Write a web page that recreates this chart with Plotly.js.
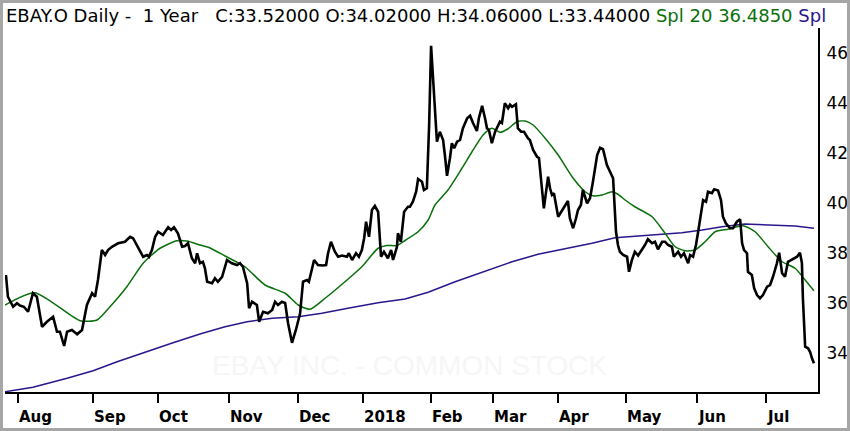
<!DOCTYPE html>
<html>
<head>
<meta charset="utf-8">
<script src="https://cdn.plot.ly/plotly-3.0.1.min.js"></script>
<style>
  body { margin: 0; background: #fff; }
  #wrap { position: relative; width: 850px; height: 431px; }
  #chart { width: 850px; height: 431px; }
  #frame {
    position: absolute; left: 0; top: 0; width: 850px; height: 431px;
    box-sizing: border-box; border: 3px solid #a6a6a6; pointer-events: none;
  }
</style>
</head>
<body>
<div id="wrap">
  <div id="chart"></div>
  <div id="frame"></div>
</div>
<script>
// ---------------------------------------------
// DATA (x = trading day index, 0 = left edge)
// ---------------------------------------------
const closeDay = [
  0.3, 0.9, 2.5, 3.7, 4.6, 5.8, 7.1, 8.6, 9.8, 11.4, 12.9, 14.8, 16.0, 16.9, 18.2, 19.1,
  20.6, 22.2, 23.7, 25.2, 26.8, 27.7, 28.6, 29.8, 30.8, 31.7, 32.9, 34.8, 36.9, 38.5, 39.4,
  40.6, 42.5, 43.7, 44.3, 45.2, 46.2, 47.1, 48.6, 50.2, 51.1, 52.0, 53.2, 54.5, 55.4, 56.3,
  57.5, 58.5, 59.1, 60.0, 60.9, 61.5, 62.2, 63.7, 64.6, 65.5, 66.8, 68.3, 69.8, 71.4, 72.3,
  73.2, 74.5, 75.1, 76.0, 77.5, 78.2, 79.4, 80.9, 82.2, 83.1, 84.0, 85.2, 86.2, 87.1, 88.3,
  89.5, 90.8, 91.7, 92.9, 93.5, 94.5, 95.1, 96.3, 97.8, 98.8, 99.4, 100.3, 101.5, 102.5,
  103.7, 105.2, 105.8, 106.8, 108.0, 108.9, 109.8, 110.5, 111.1, 112.0, 112.9, 113.8, 114.8,
  115.7, 116.6, 117.8, 118.8, 119.4, 120.6, 120.9, 121.8, 122.8, 124.0, 124.6, 125.5, 126.5,
  127.1, 128.3, 128.9, 129.8, 130.5, 131.1, 131.7, 132.9, 133.8, 134.8, 135.4, 136.0, 136.9,
  137.5, 138.2, 139.1, 140.0, 140.9, 142.2, 143.1, 144.0, 145.2, 145.8, 146.8, 147.7, 148.3,
  148.9, 149.8, 150.8, 151.7, 152.3, 152.9, 153.8, 154.8, 155.4, 156.0, 157.2, 157.8, 158.8,
  159.7, 160.9, 161.5, 162.5, 163.7, 164.3, 164.9, 165.8, 167.1, 167.7, 168.3, 168.9, 170.2,
  171.1, 172.0, 173.2, 173.8, 174.8, 175.7, 176.3, 177.2, 177.8, 179.1, 180.0, 180.9, 182.2,
  183.1, 184.0, 185.2, 186.2, 187.1, 188.0, 188.6, 189.2, 190.2, 191.4, 192.0, 192.9, 193.8,
  194.8, 196.0, 196.9, 197.8, 199.1, 200.0, 200.9, 202.2, 203.1, 204.0, 205.2, 205.8, 207.1,
  208.0, 208.9, 210.2, 210.8, 211.7, 212.6, 213.2, 214.2, 214.8, 215.7, 216.3, 217.5, 218.2,
  219.4, 220.3, 220.9, 221.8, 223.1, 224.0, 225.2, 226.2, 226.8, 227.4, 228.3, 228.6, 229.8,
  230.5, 231.4, 232.3, 233.2, 234.5, 235.4, 236.3, 237.5, 238.2, 239.1, 240.0, 240.9, 242.5,
  243.7, 244.6, 245.2, 245.5, 246.2, 247.1, 247.7, 248.3, 248.9
];
const closeVal = [
  37.12, 36.25, 35.85, 35.99, 35.90, 35.85, 35.65, 36.39, 36.25, 35.05, 35.25, 35.45, 34.85, 34.85, 34.28, 34.85,
  34.92, 34.75, 34.92, 35.92, 36.39, 36.25, 36.92, 38.12, 37.92, 38.12, 38.25, 38.39, 38.45, 38.65, 38.59,
  38.32, 37.85, 37.92, 37.85, 38.12, 38.65, 38.85, 38.72, 39.03, 38.92, 39.03, 38.79, 38.25, 38.28, 38.39,
  37.79, 37.59, 37.99, 37.59, 37.65, 37.40, 36.85, 36.79, 36.99, 36.85, 37.05, 37.72, 37.59, 37.52, 37.59,
  37.45, 36.79, 35.79, 36.05, 35.92, 35.25, 35.65, 35.59, 35.72, 36.05, 35.92, 36.05, 36.00, 35.19, 34.41,
  34.92, 35.59, 36.85, 36.92, 36.85, 37.39, 37.72, 37.52, 37.50, 37.52, 37.99, 38.45, 38.05, 37.85,
  37.90, 37.85, 37.99, 37.72, 37.99, 37.85, 38.12, 38.59, 39.25, 38.65, 39.72, 39.88, 39.65,
  37.85, 38.05, 37.79, 38.12, 37.72, 38.25, 38.79, 38.45, 39.65, 39.85, 39.85, 40.05, 40.45,
  40.96, 40.85, 40.52, 40.59, 43.12, 46.29, 44.99, 42.45, 42.85, 42.52, 41.85, 41.09, 41.79,
  42.39, 42.19, 42.45, 42.52, 42.99, 43.39, 43.49, 43.20, 42.88, 43.39, 43.89, 43.39, 42.99,
  42.92, 42.39, 42.85, 43.12, 43.25, 43.20, 43.99, 43.79, 43.93, 43.85, 43.95, 42.99, 42.85,
  42.85, 42.59, 42.52, 42.12, 41.85, 41.80, 40.99, 39.79, 41.05, 40.59, 40.32, 40.39, 39.45,
  39.65, 39.85, 40.08, 39.39, 38.99, 39.39, 39.72, 39.92, 40.52, 39.99, 40.19, 40.85, 41.92,
  42.21, 42.15, 41.52, 41.25, 40.99, 38.85, 38.32, 38.05, 37.92, 37.85, 37.25, 37.72, 38.05,
  37.90, 38.12, 38.32, 38.55, 38.39, 38.45, 38.15, 38.45, 38.45, 38.32, 38.25, 37.85, 38.05,
  37.85, 37.99, 37.59, 37.92, 37.85, 38.32, 38.79, 39.52, 40.12, 40.05, 40.45, 40.39, 40.55,
  40.50, 40.12, 39.45, 39.19, 38.99, 38.99, 39.25, 39.35, 38.39, 38.12, 37.99, 37.25, 37.12,
  36.59, 36.32, 36.19, 36.32, 36.65, 36.72, 37.05, 37.59, 38.01, 37.19, 37.05, 37.65, 37.75,
  37.85, 38.01, 37.60, 36.20, 34.25, 34.19, 34.05, 33.79, 33.59
];

const spl20Day = [
  0.0, 9.2, 23.1, 28.3, 32.3, 37.5, 42.5, 47.7, 52.9, 56.0, 60.0, 63.1, 67.7, 73.8, 80.0, 86.2,
  90.2, 93.8, 98.5, 104.6, 109.8, 114.8, 117.5, 120.6, 123.1, 127.1, 130.2, 132.3, 136.3, 140.6,
  143.7, 147.1, 149.8, 152.3, 154.8, 157.5, 160.0, 162.5, 166.2, 170.2, 174.5, 178.5, 180.9,
  183.7, 186.8, 188.6, 190.8, 193.8, 199.1, 203.1, 206.2, 209.2, 212.3, 215.4, 218.5, 222.5,
  227.1, 230.8, 234.8, 239.1, 243.1, 246.2, 248.9
];
const spl20Val = [
  35.92, 36.41, 35.29, 35.32, 35.85, 36.65, 37.59, 38.19, 38.49, 38.48, 38.32, 38.20, 37.88, 37.45, 36.72, 36.39,
  35.92, 35.75, 36.19, 36.85, 37.45, 38.19, 38.30, 38.30, 38.50, 38.85, 39.32, 39.92, 40.52, 41.39,
  42.05, 42.72, 42.99, 42.83, 42.97, 43.25, 43.28, 43.12, 42.59, 41.92, 41.05, 40.45, 40.29,
  40.32, 40.45, 40.35, 40.12, 39.85, 39.45, 38.79, 38.25, 38.09, 38.12, 38.45, 38.85, 38.95,
  39.09, 38.85, 38.25, 37.65, 37.39, 36.92, 36.49
];

const spl200Day = [
  0.0, 8.6, 19.1, 27.1, 34.5, 42.5, 51.7, 60.0, 67.7, 74.5, 82.2, 90.2, 97.5, 105.5, 114.8,
  123.1, 130.2, 138.5, 148.6, 156.0, 164.0, 172.3, 180.6, 187.7, 197.8, 208.3, 214.5, 220.6,
  227.7, 234.8, 243.1, 248.9
];
const spl200Val = [
  32.45, 32.63, 32.99, 33.29, 33.65, 34.01, 34.41, 34.76, 35.05, 35.25, 35.39, 35.45, 35.59, 35.79, 36.01,
  36.16, 36.43, 36.85, 37.32, 37.65, 37.95, 38.16, 38.39, 38.61, 38.72, 38.81, 38.92, 39.05,
  39.16, 39.12, 39.08, 38.99
];

const monthTicks = [4, 27, 47, 69, 90, 110, 131, 150, 170, 191, 213, 234];
const monthLabels = ["Aug", "Sep", "Oct", "Nov", "Dec", "2018", "Feb", "Mar", "Apr", "May", "Jun", "Jul"];
const priceTicks = [34, 36, 38, 40, 42, 44, 46];

// ---------------------------------------------
// TRACES
// ---------------------------------------------
const traces = [
  { x: spl200Day, y: spl200Val, type: "scatter", mode: "lines",
    line: { color: "#2c168c", width: 1.5 } },
  { x: spl20Day, y: spl20Val, type: "scatter", mode: "lines",
    line: { color: "#0b700b", width: 1.5, shape: "spline", smoothing: 0.6 } },
  { x: closeDay, y: closeVal, type: "scatter", mode: "lines",
    line: { color: "#000000", width: 2.6 } }
];

const header =
  "EBAY.O Daily -&nbsp; 1 Year&nbsp;&nbsp; C:33.52000 O:34.02000 H:34.06000 L:33.44000 " +
  "<span style='color:#0b700b'>Spl 20 36.4850</span> <span style='color:#2c168c'>Spl</span>";

// month labels sit to the right of their tick, like the original
const monthNotes = monthTicks.map((t, i) => ({
  xref: "x", yref: "paper", x: t, y: -0.068, xanchor: "left", yanchor: "middle",
  xshift: -1, text: monthLabels[i], showarrow: false,
  font: { family: "DejaVu Sans", size: 15, color: "#000", weight: "bold" }
}));

const layout = {
  width: 850,
  height: 431,
  margin: { l: 5, r: 32, t: 28, b: 39 },
  paper_bgcolor: "#ffffff",
  plot_bgcolor: "#ffffff",
  showlegend: false,
  font: { family: "DejaVu Sans", color: "#000" },
  xaxis: {
    range: [0, 250.15],
    tickvals: monthTicks,
    showticklabels: false,
    showgrid: false,
    zeroline: false,
    showline: true,
    linecolor: "#000",
    linewidth: 2,
    ticks: "outside",
    ticklen: 9,
    tickwidth: 2,
    tickcolor: "#000"
  },
  yaxis: {
    side: "right",
    range: [32.44, 47.0],
    tickvals: priceTicks,
    showgrid: false,
    zeroline: false,
    showline: true,
    linecolor: "#000",
    linewidth: 2,
    ticks: "",
    ticklabelstandoff: 3,
    tickfont: { size: 17, color: "#000" }
  },
  annotations: [
    { xref: "paper", yref: "paper", x: 0.498, y: 0.074, xanchor: "center", yanchor: "middle",
      text: "EBAY INC. - COMMON STOCK", showarrow: false,
      font: { family: "Liberation Sans", size: 28, color: "#f6f6f6" } },
    { xref: "paper", yref: "paper", x: -0.001, y: 1.034, xanchor: "left", yanchor: "middle",
      text: header, showarrow: false,
      font: { family: "DejaVu Sans", size: 18, color: "#000" } }
  ].concat(monthNotes)
};

Plotly.newPlot("chart", traces, layout, { staticPlot: true, displayModeBar: false });
</script>
</body>
</html>
